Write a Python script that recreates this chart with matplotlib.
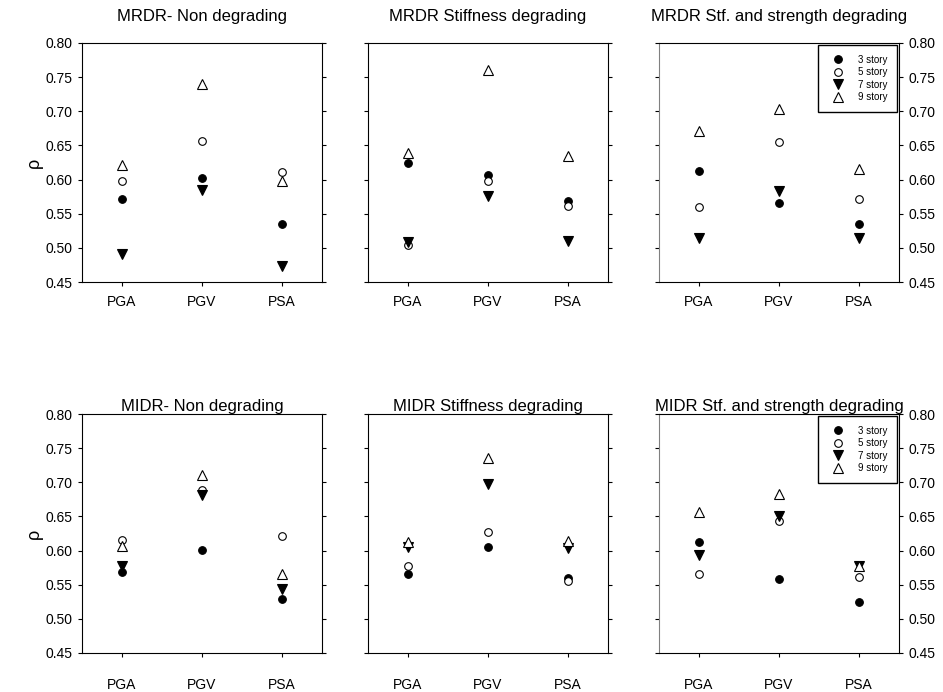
import numpy as np
import matplotlib
matplotlib.use("Agg")
import matplotlib.pyplot as plt

plt.rcParams['font.family'] = ['Liberation Sans', 'DejaVu Sans']

measures = ['PGA', 'PGV', 'PSA']
stories = ['3 story', '5 story', '7 story', '9 story']

titles = ['MRDR- Non degrading', 'MRDR Stiffness degrading', 'MRDR Stf. and strength degrading',
          'MIDR- Non degrading', 'MIDR Stiffness degrading', 'MIDR Stf. and strength degrading']

# rho values, one list per story: [PGA, PGV, PSA]
mrdr_non = {'3 story': [0.572, 0.602, 0.535],
            '5 story': [0.598, 0.657, 0.611],
            '7 story': [0.491, 0.585, 0.474],
            '9 story': [0.621, 0.740, 0.598]}
mrdr_stf = {'3 story': [0.625, 0.607, 0.568],
            '5 story': [0.504, 0.598, 0.562],
            '7 story': [0.508, 0.576, 0.510],
            '9 story': [0.639, 0.761, 0.635]}
mrdr_str = {'3 story': [0.613, 0.566, 0.535],
            '5 story': [0.560, 0.655, 0.571],
            '7 story': [0.515, 0.583, 0.515],
            '9 story': [0.671, 0.704, 0.615]}
midr_non = {'3 story': [0.568, 0.601, 0.529],
            '5 story': [0.616, 0.688, 0.621],
            '7 story': [0.577, 0.681, 0.544],
            '9 story': [0.606, 0.710, 0.566]}
midr_stf = {'3 story': [0.565, 0.605, 0.560],
            '5 story': [0.577, 0.627, 0.556],
            '7 story': [0.605, 0.697, 0.604],
            '9 story': [0.613, 0.736, 0.614]}
midr_str = {'3 story': [0.612, 0.559, 0.525],
            '5 story': [0.566, 0.644, 0.561],
            '7 story': [0.593, 0.650, 0.577],
            '9 story': [0.656, 0.683, 0.578]}
panels = [mrdr_non, mrdr_stf, mrdr_str, midr_non, midr_stf, midr_str]

yticks = [0.45, 0.50, 0.55, 0.60, 0.65, 0.70, 0.75, 0.80]

styles = {'3 story': dict(marker='o', ms=5.5, mfc='black', mec='black'),
          '5 story': dict(marker='o', ms=5.5, mfc='white', mec='black'),
          '7 story': dict(marker='v', ms=6.5, mfc='black', mec='black'),
          '9 story': dict(marker='^', ms=6.5, mfc='white', mec='black')}

W, H = 943, 692
fig = plt.figure(figsize=(W / 100, H / 100), dpi=100)

lefts = [82, 368, 659]
tops = [43, 414]
aw, ah = 240, 239
title_pad = [16, 2]
xlab_pad = [6, 15]

x = np.arange(1, 4)
for i, data in enumerate(panels):
    row, col = divmod(i, 3)
    l, t = lefts[col], tops[row]
    ax = fig.add_axes([l / W, 1 - (t + ah) / H, aw / W, ah / H])
    for s in stories:
        ax.plot(x, data[s], linestyle='none', mew=0.8, label=s, **styles[s])
    ax.set_xlim(0.5, 3.5)
    ax.set_ylim(0.45, 0.80)
    ax.set_yticks(yticks)
    ax.set_xticks(x)
    ax.set_xticklabels(measures)
    ax.tick_params(axis='x', direction='out', length=3, width=0.8, labelsize=10,
                   pad=xlab_pad[row])
    ax.tick_params(axis='y', direction='out', length=3, width=0.8, labelsize=10,
                   left=True, right=True)
    if col == 0:
        ax.set_yticklabels(['%.2f' % v for v in yticks])
        ax.set_ylabel('ρ', fontsize=13, labelpad=2)
    elif col == 2:
        ax.tick_params(axis='y', labelleft=False, labelright=True)
        ax.set_yticklabels(['%.2f' % v for v in yticks])
        ax.spines['left'].set_color('#808080')
        ax.legend(loc='upper right', fontsize=7, frameon=True, fancybox=False,
                  edgecolor='black', framealpha=1, borderaxespad=0.2,
                  handletextpad=0.9, labelspacing=0.25, borderpad=1.0,
                  markerscale=1.0, handlelength=2.2)
    else:
        ax.tick_params(axis='y', labelleft=False)
    for sp in ax.spines.values():
        sp.set_linewidth(0.8)
    ax.set_title(titles[i], fontsize=12, pad=title_pad[row])

fig.savefig('out.png', dpi=100)
